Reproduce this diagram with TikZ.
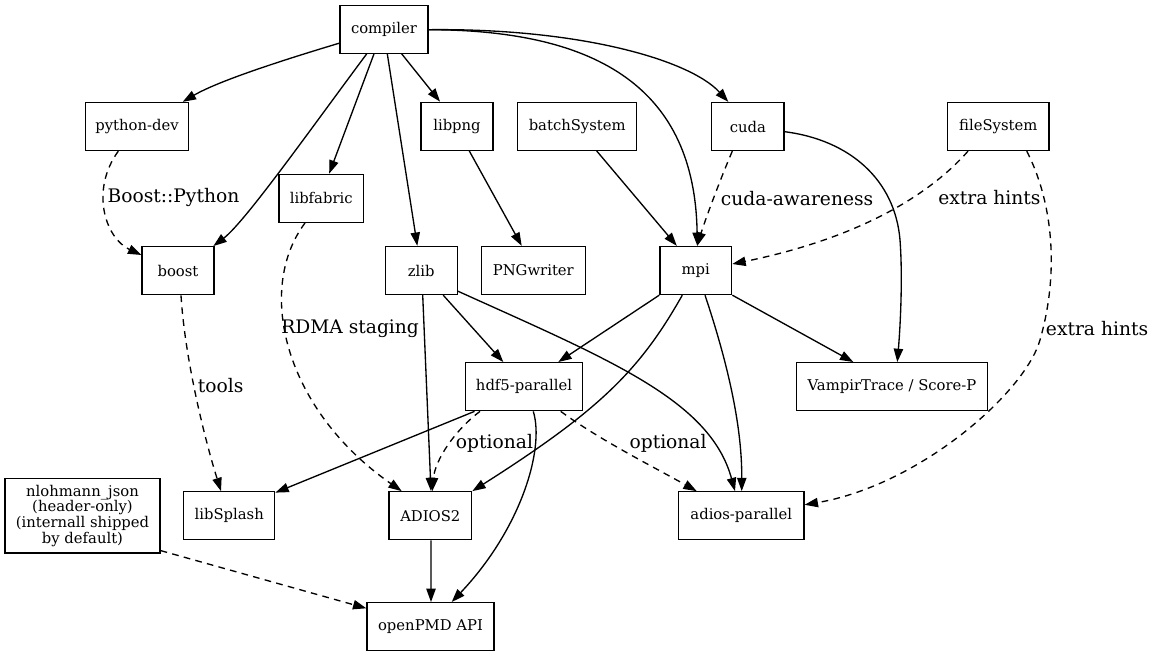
\documentclass[tikz,border=0pt]{standalone}
\usepackage{fontspec}
\setmainfont{DejaVu Serif}
\usetikzlibrary{arrows.meta,calc}
\begin{document}
\begin{tikzpicture}[x=0.75pt,y=-0.75pt,
  box/.style={draw, line width=1pt, inner sep=0pt, minimum height=36pt,
    font=\fontsize{11.1}{11.75}\selectfont, align=center},
  edge/.style={-{Triangle[length=10pt,width=7pt]}, line width=1pt},
  opt/.style={edge, dash pattern=on 5pt off 4pt},
  lbl/.style={font=\fontsize{14}{16}\selectfont, inner sep=0pt, anchor=west}]
\fill[white] (0,0) rectangle (1155,656);
\useasboundingbox (0,0) rectangle (1155,656);

% nodes
\node[box, minimum width=66.2pt] (compiler) at (384,29.2) {compiler};
\node[box, minimum width=77pt] (pydev) at (137,126.5) {python-dev};
\node[box, minimum width=63.2pt] (libfabric) at (321.2,198.3) {libfabric};
\node[box, minimum width=54pt] (boost) at (178,270.7) {boost};
\node[box, minimum width=54pt] (zlib) at (421.2,270.5) {zlib};
\node[box, minimum width=54pt] (libpng) at (457,126.3) {libpng};
\node[box, minimum width=78pt] (pngwriter) at (533.3,270.5) {PNGwriter};
\node[box, minimum width=89.25pt] (batch) at (577.2,126.3) {batchSystem};
\node[box, minimum width=53.8pt] (mpi) at (695.8,270.5) {mpi};
\node[box, minimum width=54.25pt] (cuda) at (747.8,126.5) {cuda};
\node[box, minimum width=76pt] (fs) at (998.3,126.5) {fileSystem};
\node[box, minimum width=88pt] (hdf5) at (524,386.7) {hdf5-parallel};
\node[box, minimum width=143pt] (vampir) at (892,386.7) {VampirTrace / Score-P};
\node[box, minimum width=116.25pt, minimum height=55.7pt] (nlohmann) at (82.5,515.8)
  {nlohmann\_json\\(header-only)\\(internall shipped\\by default)};
\node[box, minimum width=68.25pt] (libsplash) at (229.2,515.8) {libSplash};
\node[box, minimum width=62pt] (adios2) at (430.3,515.8) {ADIOS2};
\node[box, minimum width=94pt] (adiospar) at (741.3,515.8) {adios-parallel};
\node[box, minimum width=95.25pt] (openpmd) at (430.5,626.7) {openPMD API};

% edges from compiler
\draw[edge] ($(compiler.west)+(0,14)$) .. controls (290,58) and (220,80) .. ($(pydev.north)+(45.7,0)$);
\draw[edge] ($(compiler.south)+(-17.3,0)$) .. controls (310,130) and (245,222) .. ($(boost.north east)+(-1.3,0)$);
\draw[edge] ($(compiler.south)+(-10,0)$) -- ($(libfabric.north)+(8,0)$);
\draw[edge] ($(compiler.south)+(3.3,0)$) -- ($(zlib.north)+(-3.9,0)$);
\draw[edge] ($(compiler.south)+(17.7,0)$) -- ($(libpng.north)+(-17,0)$);
\draw[edge] ($(compiler.east)+(0,0.5)$) .. controls (600,30) and (695,90) .. ($(mpi.north)+(1.5,0)$);
\draw[edge] ($(compiler.east)+(0,0.5)$) .. controls (580,28) and (690,60) .. ($(cuda.north)+(-19.5,0)$);

% python-dev -> boost
\draw[opt] ($(pydev.south)+(-18.7,0)$) .. controls (90,190) and (105,238) .. ($(boost.west)+(0,-15.7)$);
\node[lbl] (lblbp) at (107.3,197.7) {Boost::Python};

% libfabric -> ADIOS2
\draw[opt] ($(libfabric.south)+(-16.2,0)$) .. controls (255,290) and (285,410) .. ($(adios2.north)+(-28.6,0)$);
\node[lbl] (lblrdma) at (281,328.3) {RDMA staging};

% boost -> libSplash
\draw[opt] ($(boost.south)+(3,0)$) .. controls (185,360) and (205,440) .. ($(libsplash.north)+(-8.2,0)$);
\node[lbl] (lbltools) at (197.7,386) {tools};

% zlib
\draw[edge] ($(zlib.south)+(1.5,0)$) -- ($(adios2.north)+(0.7,0)$);
\draw[edge] ($(zlib.south)+(22,0)$) -- ($(hdf5.north)+(-20.7,0)$);
\draw[edge] ($(zlib.south east)+(0,-4)$) .. controls (610,360) and (710,400) .. ($(adiospar.north)+(-6.3,0)$);

% libpng, batchSystem
\draw[edge] ($(libpng.south)+(12.3,0)$) -- ($(pngwriter.north)+(-11.6,0)$);
\draw[edge] ($(batch.south)+(19.5,0)$) -- ($(mpi.north)+(-19,0)$);

% cuda
\draw[opt] ($(cuda.south)+(-15.5,0)$) .. controls (722,175) and (705,220) .. ($(mpi.north)+(1.5,0)$);
\node[lbl] (lblcuda) at (720.7,198.3) {cuda-awareness};
\draw[edge] ($(cuda.east)+(0,5.2)$) .. controls (850,140) and (895,180) .. (900,240)
  .. controls (903,280) and (900,330) .. ($(vampir.north)+(5.3,0)$);

% fileSystem
\draw[opt] ($(fs.south)+(-30.3,0)$) .. controls (925,200) and (850,240) .. ($(mpi.east)+(0,-6.5)$);
\node[lbl] (lblfs1) at (938,198) {extra hints};
\draw[opt] ($(fs.south)+(28.4,0)$) .. controls (1052,200) and (1060,270) .. (1040,340)
  .. controls (1025,392.5) and (920,485) .. ($(adiospar.east)+(0,-11)$);
\node[lbl] (lblfs2) at (1045.7,328.3) {extra hints};

% mpi
\draw[edge] (mpi.south west) -- ($(hdf5.north)+(34.3,0)$);
\draw[edge] ($(mpi.south)+(-13.5,0)$) .. controls (640,370) and (600,410) .. (adios2.north east);
\draw[edge] ($(mpi.south)+(9.2,0)$) .. controls (730,370) and (742,430) .. ($(adiospar.north)+(0.4,0)$);
\draw[edge] (mpi.south east) -- ($(vampir.north)+(-38.7,0)$);

% hdf5
\draw[edge] ($(hdf5.south)+(-49.5,0)$) -- ($(libsplash.north east)+(0,1.5)$);
\draw[opt] ($(hdf5.south)+(-44,0)$) .. controls (455,430) and (435,460) .. ($(adios2.north)+(2,0)$);
\node[lbl] (lblopt1) at (455.7,443.3) {optional};
\draw[opt] ($(hdf5.south)+(36.7,0)$) .. controls (600,440) and (650,465) .. ($(adiospar.north)+(-44.6,0)$);
\node[lbl] (lblopt2) at (629.3,443.3) {optional};
\draw[edge] ($(hdf5.south)+(9.3,0)$) .. controls (545,450) and (520,530) .. ($(openpmd.north)+(21.2,0)$);

% to openPMD
\draw[edge] ($(adios2.south)+(0.7,0)$) -- ($(openpmd.north)+(0.5,0)$);
\draw[opt] ($(nlohmann.south east)+(0,-3)$) -- ($(openpmd.west)+(0,-18.4)$);
\end{tikzpicture}
\end{document}
